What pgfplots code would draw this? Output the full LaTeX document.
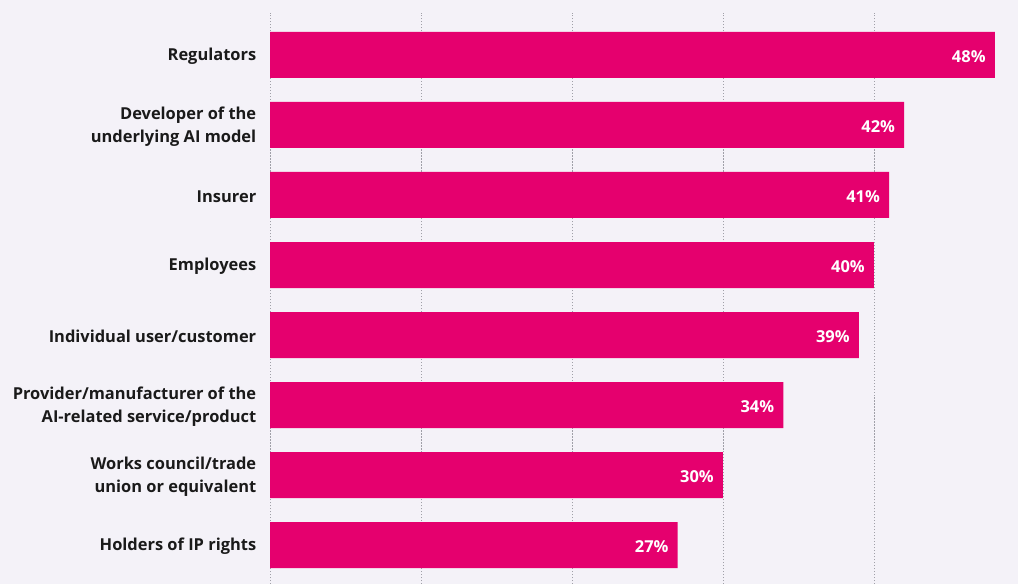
\documentclass[border=0pt]{standalone}
\usepackage{pgfplots}
\pgfplotsset{compat=1.18}
\usepackage{fontspec}
\setmainfont{Open Sans}
\definecolor{bg}{HTML}{F4F2F8}
\definecolor{bar}{HTML}{E5006E}
\definecolor{txt}{HTML}{1A1A1A}
\definecolor{grd}{HTML}{A0A0A8}
\begin{document}
\begin{tikzpicture}
\path[use as bounding box, fill=bg] (0,0) rectangle (1018bp,584bp);
\begin{axis}[
  at={(270bp,0bp)}, anchor=south west,
  scale only axis, width=748bp, height=571bp,
  xmin=0, xmax=49.54, ymin=-0.557, ymax=7.6,
  axis line style={draw=none}, tick style={draw=none},
  xbar, bar width=46bp,
  xtick={0,10,20,30,40},
  xmajorgrids, grid style={grd, line width=0.9pt, dash pattern=on 1.2pt off 1.8pt},
  ytick={0,...,7},
  yticklabels={Holders of IP rights,
    {Works council/trade\\union or equivalent},
    {Provider/manufacturer of the\\AI-related service/product},
    Individual user/customer, Employees, Insurer,
    {Developer of the\\underlying AI model}, Regulators},
  yticklabel style={align=right, font=\bfseries\fontsize{16.5}{23}\selectfont, text=txt, xshift=-6bp, yshift=-1.5bp},
  xticklabels={},
  /pgf/number format/assume math mode=true,
  nodes near coords={\pgfmathprintnumber{\pgfplotspointmeta}\%},
  every node near coord/.append style={anchor=east, inner sep=0pt, xshift=-9bp, yshift=-1.5bp, text=white, font=\bfseries\fontsize{16.5}{18}\selectfont},
  point meta=x,
]
\addplot[fill=bar, draw=none] coordinates {
(27,0) (30,1) (34,2) (39,3) (40,4) (41,5) (42,6) (48,7)};
\end{axis}
\end{tikzpicture}
\end{document}
